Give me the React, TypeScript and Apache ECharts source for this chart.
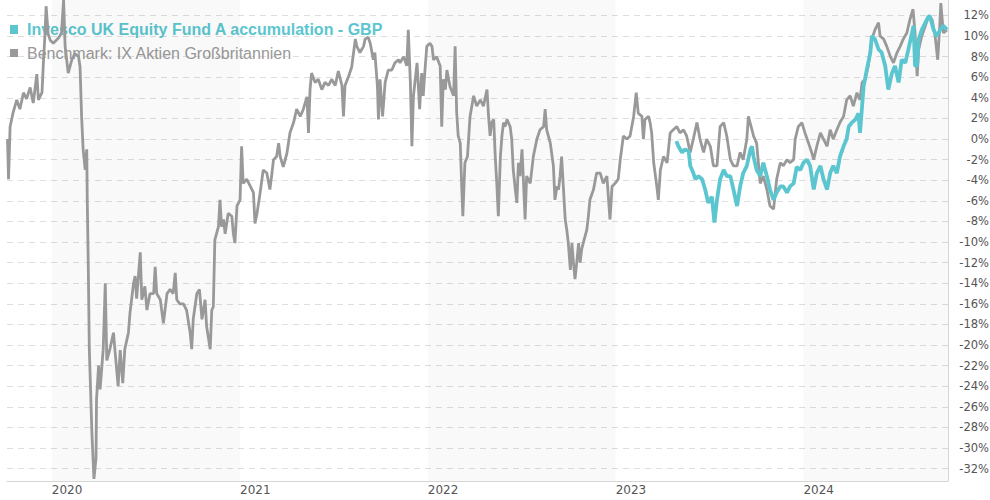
import { useEffect, useRef } from "react";
import * as echarts from "echarts";

const fundName = "Invesco UK Equity Fund A accumulation - GBP";
const benchName = "Benchmark: IX Aktien Großbritannien";

const benchDates = [
  "2019-10-07","2019-10-09","2019-10-12","2019-10-18","2019-10-25","2019-10-31","2019-11-07","2019-11-13","2019-11-20","2019-11-26",
  "2019-12-03","2019-12-06","2019-12-13","2019-12-16","2019-12-19","2019-12-21","2019-12-25","2019-12-29","2020-01-04","2020-01-14",
  "2020-01-20","2020-01-24","2020-01-27","2020-02-02","2020-02-09","2020-02-15","2020-02-22","2020-02-25","2020-02-28","2020-03-02",
  "2020-03-06","2020-03-09","2020-03-10","2020-03-12","2020-03-14","2020-03-19","2020-03-23","2020-03-27","2020-03-28","2020-04-01",
  "2020-04-04","2020-04-10","2020-04-14","2020-04-17","2020-04-23","2020-04-30","2020-05-03","2020-05-09","2020-05-13","2020-05-18",
  "2020-05-22","2020-05-29","2020-06-01","2020-06-08","2020-06-11","2020-06-14","2020-06-21","2020-06-24","2020-06-30","2020-07-04",
  "2020-07-10","2020-07-17","2020-07-20","2020-07-23","2020-07-30","2020-08-05","2020-08-12","2020-08-18","2020-08-24","2020-08-28",
  "2020-08-31","2020-09-06","2020-09-13","2020-09-19","2020-09-26","2020-09-29","2020-10-02","2020-10-09","2020-10-14","2020-10-19",
  "2020-10-25","2020-10-28","2020-11-04","2020-11-07","2020-11-10","2020-11-13","2020-11-20","2020-11-23","2020-11-26","2020-11-30",
  "2020-12-03","2020-12-09","2020-12-16","2020-12-19","2020-12-22","2020-12-26","2021-01-01","2021-01-04","2021-01-07","2021-01-14",
  "2021-01-21","2021-01-27","2021-01-30","2021-02-03","2021-02-09","2021-02-15","2021-02-22","2021-02-28","2021-03-04","2021-03-07",
  "2021-03-13","2021-03-17","2021-03-20","2021-03-26","2021-04-02","2021-04-08","2021-04-15","2021-04-21","2021-04-28","2021-05-04",
  "2021-05-11","2021-05-14","2021-05-17","2021-05-20","2021-05-27","2021-06-02","2021-06-09","2021-06-15","2021-06-22","2021-06-28",
  "2021-07-05","2021-07-11","2021-07-18","2021-07-21","2021-07-24","2021-07-31","2021-08-06","2021-08-13","2021-08-16","2021-08-22",
  "2021-08-29","2021-09-01","2021-09-07","2021-09-11","2021-09-17","2021-09-20","2021-09-25","2021-09-27","2021-09-30","2021-10-05",
  "2021-10-10","2021-10-16","2021-10-23","2021-10-29","2021-11-05","2021-11-08","2021-11-15","2021-11-21","2021-11-24","2021-11-28",
  "2021-12-01","2021-12-04","2021-12-11","2021-12-16","2021-12-20","2021-12-23","2021-12-27","2021-12-30","2022-01-05","2022-01-09",
  "2022-01-12","2022-01-18","2022-01-25","2022-01-28","2022-01-31","2022-02-04","2022-02-07","2022-02-13","2022-02-20","2022-02-23",
  "2022-02-26","2022-03-01","2022-03-05","2022-03-08","2022-03-10","2022-03-14","2022-03-19","2022-03-24","2022-03-31","2022-04-06",
  "2022-04-13","2022-04-19","2022-04-26","2022-04-29","2022-05-02","2022-05-05","2022-05-09","2022-05-12","2022-05-15","2022-05-18",
  "2022-05-22","2022-05-25","2022-05-28","2022-05-31","2022-06-04","2022-06-10","2022-06-13","2022-06-16","2022-06-20","2022-06-23",
  "2022-06-26","2022-06-29","2022-07-03","2022-07-06","2022-07-09","2022-07-12","2022-07-19","2022-07-25","2022-08-01","2022-08-07",
  "2022-08-14","2022-08-17","2022-08-20","2022-08-27","2022-09-02","2022-09-05","2022-09-09","2022-09-12","2022-09-15","2022-09-18",
  "2022-09-22","2022-09-25","2022-09-28","2022-10-01","2022-10-05","2022-10-08","2022-10-11","2022-10-14","2022-10-18","2022-10-21",
  "2022-10-24","2022-10-27","2022-10-30","2022-11-06","2022-11-09","2022-11-12","2022-11-19","2022-11-25","2022-12-02","2022-12-08",
  "2022-12-15","2022-12-21","2022-12-25","2022-12-31","2023-01-06","2023-01-10","2023-01-16","2023-01-23","2023-01-29","2023-02-05",
  "2023-02-10","2023-02-14","2023-02-21","2023-02-24","2023-02-27","2023-03-06","2023-03-09","2023-03-12","2023-03-16","2023-03-22",
  "2023-03-25","2023-03-29","2023-04-04","2023-04-11","2023-04-17","2023-04-23","2023-04-30","2023-05-06","2023-05-13","2023-05-19",
  "2023-05-26","2023-06-01","2023-06-08","2023-06-14","2023-06-21","2023-06-27","2023-07-04","2023-07-10","2023-07-17","2023-07-23",
  "2023-07-30","2023-08-05","2023-08-12","2023-08-18","2023-08-25","2023-08-31","2023-09-06","2023-09-13","2023-09-16","2023-09-23",
  "2023-09-26","2023-10-02","2023-10-06","2023-10-09","2023-10-15","2023-10-22","2023-10-28","2023-11-04","2023-11-10","2023-11-17",
  "2023-11-23","2023-11-30","2023-12-06","2023-12-13","2023-12-16","2023-12-22","2023-12-29","2024-01-04","2024-01-11","2024-01-17",
  "2024-01-21","2024-01-27","2024-02-03","2024-02-09","2024-02-16","2024-02-22","2024-02-28","2024-03-06","2024-03-12","2024-03-19",
  "2024-03-25","2024-04-01","2024-04-07","2024-04-14","2024-04-20","2024-04-24","2024-04-30","2024-05-06","2024-05-13","2024-05-19",
  "2024-05-26","2024-05-29","2024-06-05","2024-06-11","2024-06-18","2024-06-24","2024-07-01","2024-07-07","2024-07-13","2024-07-20",
  "2024-07-26","2024-08-01","2024-08-05","2024-08-09","2024-08-12","2024-08-18","2024-08-25","2024-08-31","2024-09-07","2024-09-13",
  "2024-09-18","2024-09-22","2024-09-24","2024-09-29","2024-10-06"
];

const benchValues = [
  0, -3.9, 1.2, 2.6, 3.8, 2.9, 4.5, 3.9, 5.0, 3.5,
  6.3, 3.8, 4.5, 7.7, 10.3, 12.9, 10.2, 9.6, 9.3, 9.8,
  10.3, 13.5, 9.0, 6.4, 7.7, 8.3, 8.0, 7.0, 2.2, -1.0,
  -3.0, -1.0, -5.9, -12.4, -20.4, -28.5, -33.0, -31.0, -25.3, -22.0,
  -24.3, -20.4, -14.0, -21.5, -20.4, -18.8, -20.6, -24.0, -20.5, -23.7,
  -20.4, -18.8, -16.9, -14.0, -13.3, -15.5, -11.0, -15.6, -14.3, -16.6,
  -15.0, -15.0, -12.4, -15.0, -15.6, -17.9, -15.0, -14.6, -15.0, -13.0,
  -15.6, -16.0, -16.0, -16.6, -18.8, -20.4, -17.5, -15.0, -14.6, -17.5,
  -15.6, -18.2, -20.4, -16.6, -16.3, -9.8, -8.5, -5.9, -8.5, -7.8,
  -9.2, -7.2, -7.5, -9.2, -10.1, -6.5, -5.9, -0.7, -4.3, -3.9,
  -4.6, -5.2, -8.2, -7.2, -5.2, -3.0, -3.3, -4.9, -3.3, -2.0,
  -1.7, -0.4, -1.7, -2.7, -1.4, 0.6, 1.6, 2.9, 2.2, 2.9,
  4.1, 0.6, 4.8, 6.4, 5.5, 5.8, 4.8, 5.5, 5.2, 5.8,
  5.2, 6.6, 5.2, 2.2, 5.2, 6.1, 7.0, 9.7, 9.0, 8.4,
  9.0, 9.7, 9.9, 9.3, 7.7, 8.4, 5.1, 1.9, 5.8, 2.2,
  5.5, 6.7, 6.7, 7.4, 7.7, 7.4, 8.0, 7.1, 10.6, 5.5,
  -0.7, 4.2, 7.4, 2.9, 6.4, 4.2, 7.1, 9.0, 9.3, 9.0,
  7.7, 8.0, 7.1, 1.2, 5.8, 4.8, 6.7, 5.1, 4.2, 9.0,
  2.6, 0.3, -0.4, -4.9, -7.5, -2.3, -1.7, 2.2, 4.2, 3.2,
  3.8, 3.2, 4.8, 2.2, 0.3, 1.6, 1.9, -1.7, -4.3, -7.5,
  -1.7, 0.3, 1.6, 1.2, 1.9, 1.2, 0.0, -3.0, -4.9, -6.2,
  -2.3, -3.6, -1.0, -4.3, -7.8, -3.6, -4.3, -1.7, 0.0, 0.9,
  1.2, 2.9, 0.9, -0.4, -2.6, -5.9, -4.6, -4.9, -3.6, -1.7,
  -5.2, -7.8, -8.8, -10.1, -12.7, -10.1, -12.0, -13.6, -11.7, -10.1,
  -12.0, -10.7, -10.1, -8.8, -7.5, -5.9, -4.9, -3.3, -3.3, -4.3,
  -3.6, -7.8, -4.6, -4.3, -3.9, -2.0, 0.3, 0.0, 0.3, 2.2,
  4.5, 2.5, 2.2, 0.0, 1.9, 2.2, 1.6, 0.6, -2.3, -4.6,
  -5.9, -3.0, -1.7, -2.3, 0.6, 0.9, 1.2, 0.6, 0.9, 0.3,
  -1.3, 0.0, 1.6, 0.0, -1.3, 0.0, -0.7, -2.6, -2.6, 1.2,
  1.6, 0.3, -2.0, -2.6, -2.6, -1.3, -2.0, 0.0, 2.2, 0.9,
  0.3, -0.4, -2.6, -4.3, -3.6, -4.9, -6.5, -6.8, -3.9, -2.3,
  -2.6, -2.0, -2.3, -2.0, 0.0, 1.2, 1.6, 0.6, -0.4, -1.3,
  -2.0, -0.7, 0.6, 0.0, -0.7, 0.9, 0.0, 0.9, 1.6, 2.2,
  3.8, 4.2, 3.2, 4.5, 3.8, 5.5, 5.8, 7.1, 9.7, 10.6,
  11.3, 10.0, 9.7, 9.0, 8.0, 7.4, 8.4, 9.0, 9.7, 10.3,
  11.6, 12.6, 10.3, 6.1, 8.7, 10.0, 11.0, 11.9, 11.6, 10.0,
  7.7, 11.0, 13.2, 10.3, 10.6
];

const fundDates = [
  "2023-04-29","2023-05-03","2023-05-10","2023-05-16","2023-05-23","2023-05-26","2023-06-01","2023-06-05","2023-06-11","2023-06-18",
  "2023-06-24","2023-06-30","2023-07-07","2023-07-12","2023-07-17","2023-07-23","2023-07-30","2023-08-05","2023-08-12","2023-08-18",
  "2023-08-25","2023-08-31","2023-09-06","2023-09-13","2023-09-20","2023-09-23","2023-09-26","2023-10-02","2023-10-09","2023-10-15",
  "2023-10-22","2023-10-28","2023-11-04","2023-11-10","2023-11-17","2023-11-23","2023-11-30","2023-12-06","2023-12-13","2023-12-19",
  "2023-12-26","2024-01-01","2024-01-08","2024-01-14","2024-01-21","2024-01-27","2024-02-03","2024-02-09","2024-02-16","2024-02-22",
  "2024-02-28","2024-03-06","2024-03-12","2024-03-19","2024-03-25","2024-03-29","2024-04-04","2024-04-11","2024-04-17","2024-04-20",
  "2024-04-24","2024-04-27","2024-05-03","2024-05-10","2024-05-13","2024-05-19","2024-05-26","2024-06-01","2024-06-08","2024-06-14",
  "2024-06-21","2024-06-27","2024-07-04","2024-07-10","2024-07-17","2024-07-23","2024-07-30","2024-08-02","2024-08-05","2024-08-09",
  "2024-08-12","2024-08-18","2024-08-25","2024-08-31","2024-09-03","2024-09-10","2024-09-16","2024-09-23","2024-09-29","2024-10-06"
];

const fundValues = [
  -0.2, -0.7, -1.3, -1.0, -1.2, -2.6, -3.3, -3.9, -3.6, -3.9,
  -4.9, -6.2, -5.6, -8.1, -5.9, -3.9, -3.0, -3.6, -3.6, -4.9,
  -6.5, -4.6, -3.3, -2.6, -1.0, -0.7, -1.7, -3.0, -3.6, -2.3,
  -3.6, -4.9, -5.9, -5.2, -4.6, -4.6, -5.2, -4.6, -4.3, -2.7,
  -3.0, -2.3, -2.0, -2.6, -4.9, -3.3, -2.6, -3.9, -4.9, -3.3,
  -2.6, -3.3, -1.7, -0.7, 0.0, 1.2, 1.6, 1.9, 2.5, 0.6,
  3.2, 5.1, 6.7, 8.4, 10.0, 9.7, 8.7, 8.4, 7.1, 4.8,
  6.4, 7.1, 5.5, 7.7, 7.4, 8.7, 10.3, 11.0, 7.1, 7.1,
  9.7, 10.6, 11.3, 11.9, 11.9, 10.6, 10.0, 10.6, 11.0, 10.6
];

const yearTicks = ["2020-01-01", "2021-01-01", "2022-01-01", "2023-01-01", "2024-01-01"];
const shadedYears = [
  ["2020-01-01", "2021-01-01"],
  ["2022-01-01", "2023-01-01"],
  ["2024-01-01", "2024-10-08"]
];
const axisStart = "2019-10-06";
const axisEnd = "2024-10-08";
const yMin = -33.2;
const yMax = 13.5;

const fundColor = "#5bc6cf";
const benchColor = "#999999";

const ts = (s: string) => Date.parse(s + "T00:00:00Z");

export default function App() {
  const ref = useRef<HTMLDivElement>(null);

  useEffect(() => {
    if (!ref.current) return;
    const chart = echarts.init(ref.current, undefined, { renderer: "svg" });
    const labelFamily = "DejaVu Sans, Verdana, sans-serif";
    chart.setOption({
      animation: false,
      grid: {
        left: 7,
        right: 42,
        top: 0,
        bottom: 19,
        containLabel: false,
        outerBoundsMode: "none",
      },
      xAxis: {
        type: "value",
        min: ts(axisStart),
        max: ts(axisEnd),
        axisLine: { show: true, onZero: false, lineStyle: { color: "#d6d6d6", width: 1 } },
        axisTick: { show: false },
        splitLine: { show: false },
        axisLabel: {
          fontFamily: labelFamily,
          fontSize: 12,
          color: "#555555",
          customValues: yearTicks.map(ts),
          formatter: (v: number) => String(new Date(v).getUTCFullYear()),
          align: "left",
          margin: 3,
          hideOverlap: false,
        },
      },
      yAxis: {
        type: "value",
        position: "right",
        min: yMin,
        max: yMax,
        splitNumber: 23,
        minInterval: 2,
        maxInterval: 2,
        axisLine: { show: true, onZero: false, lineStyle: { color: "#d6d6d6", width: 1 } },
        axisTick: { show: false },
        splitLine: {
          show: true,
          showMinLine: false,
          showMaxLine: false,
          lineStyle: { color: "#dedede", width: 1, type: [6, 5] },
        },
        axisLabel: {
          fontFamily: labelFamily,
          fontSize: 11.5,
          color: "#555555",
          showMinLabel: false,
          showMaxLabel: false,
          formatter: (v: number) => `${Math.round(v)}%`,
          align: "right",
          margin: 41,
        },
      },
      graphic: [
        {
          type: "rect",
          z: 1,
          shape: { x: 10, y: 25, width: 8, height: 9 },
          style: { fill: fundColor },
        },
        {
          type: "text",
          z: 1,
          x: 27,
          y: 29.5,
          style: {
            text: fundName,
            fill: fundColor,
            font: 'bold 16px "Liberation Sans", Arial, sans-serif',
            align: "left",
            verticalAlign: "middle",
          },
        },
        {
          type: "rect",
          z: 1,
          shape: { x: 10, y: 49, width: 8, height: 8 },
          style: { fill: benchColor },
        },
        {
          type: "text",
          z: 1,
          x: 27,
          y: 53,
          style: {
            text: benchName,
            fill: benchColor,
            font: '16px "Liberation Sans", Arial, sans-serif',
            align: "left",
            verticalAlign: "middle",
          },
        },
      ],
      series: [
        {
          name: benchName,
          type: "line",
          z: 3,
          showSymbol: false,
          symbol: "none",
          data: benchDates.map((d, i) => [ts(d), benchValues[i]]),
          lineStyle: { color: benchColor, width: 2.8 },
          itemStyle: { color: benchColor },
          markArea: {
            silent: true,
            itemStyle: { color: "rgba(0,0,0,0.025)" },
            data: shadedYears.map(([a, b]) => [{ xAxis: ts(a) }, { xAxis: ts(b) }]),
          },
        },
        {
          name: fundName,
          type: "line",
          z: 4,
          showSymbol: false,
          symbol: "none",
          data: fundDates.map((d, i) => [ts(d), fundValues[i]]),
          lineStyle: { color: fundColor, width: 3.8 },
          itemStyle: { color: fundColor },
        },
      ],
    });
    return () => chart.dispose();
  }, []);

  return (
    <div
      ref={ref}
      style={{ position: "fixed", left: 0, top: 0, width: 990, height: 500, background: "#ffffff" }}
    />
  );
}
